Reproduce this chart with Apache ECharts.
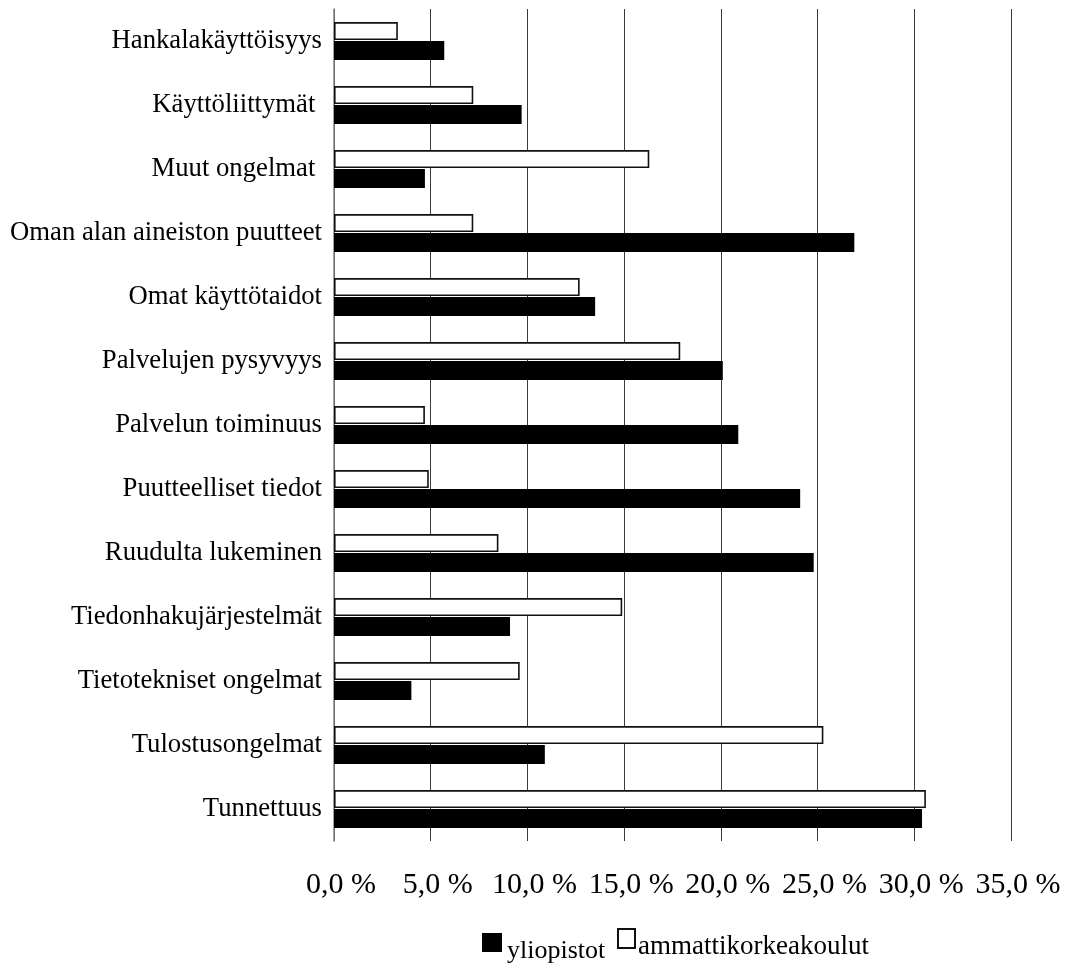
<!DOCTYPE html>
<html>
<head>
<meta charset="utf-8">
<script src="https://cdn.jsdelivr.net/npm/echarts@6/dist/echarts.min.js"></script>
<style>
  html, body { margin: 0; padding: 0; background: #fff; }
  #chart { width: 1073px; height: 965px; }
</style>
</head>
<body>
<div id="chart"></div>
<script>
// Problem categories, top to bottom
const categories = [
  'Hankalakäyttöisyys',
  'Käyttöliittymät ',
  'Muut ongelmat ',
  'Oman alan aineiston puutteet',
  'Omat käyttötaidot',
  'Palvelujen pysyvyys',
  'Palvelun toiminuus',
  'Puutteelliset tiedot',
  'Ruudulta lukeminen',
  'Tiedonhakujärjestelmät',
  'Tietotekniset ongelmat',
  'Tulostusongelmat',
  'Tunnettuus'
];

// Share of respondents (%)
const yliopistot = [5.7, 9.7, 4.7, 26.9, 13.5, 20.1, 20.9, 24.1, 24.8, 9.1, 4.0, 10.9, 30.4];
const ammattikorkeakoulut = [3.3, 7.2, 16.3, 7.2, 12.7, 17.9, 4.7, 4.9, 8.5, 14.9, 9.6, 25.3, 30.6];

// Value axis tick labels
const xTickLabels = ['0,0 %', '5,0 %', '10,0 %', '15,0 %', '20,0 %', '25,0 %', '30,0 %', '35,0 %'];

const serif = "'Liberation Serif', 'Times New Roman', serif";
const lineColor = '#3a3a3a';

// Legend swatches and legend names are placed separately so each name
// can sit at its own baseline next to its swatch.
function swatch(name, left, top, w) {
  return {
    data: [name], left: left, top: top, padding: 0,
    itemWidth: w, itemHeight: 19, itemGap: 0, icon: 'rect',
    selectedMode: false,
    formatter: () => ''
  };
}
function legendName(name, left, top, size) {
  return {
    data: [name], left: left, top: top, padding: 0,
    itemWidth: 0, itemHeight: 10, itemGap: 0, icon: 'none',
    selectedMode: false,
    textStyle: { fontFamily: serif, fontSize: size, color: '#000' }
  };
}

const chart = echarts.init(document.getElementById('chart'), null, { renderer: 'canvas' });

chart.setOption({
  animation: false,
  backgroundColor: '#ffffff',
  grid: { left: 334, right: 62, top: 9, bottom: 124, containLabel: false },
  legend: [
    swatch('yliopistot', 482, 933, 20),
    legendName('yliopistot', 502, 938, 26),
    swatch('ammattikorkeakoulut', 617, 928, 17),
    legendName('ammattikorkeakoulut', 633, 933, 27)
  ],
  xAxis: {
    type: 'value',
    min: 0, max: 35, interval: 5,
    axisLine: { show: false },
    axisTick: { show: false },
    splitLine: { show: true, lineStyle: { color: lineColor, width: 1 } },
    axisLabel: {
      margin: 29,
      fontFamily: serif, fontSize: 30, color: '#000',
      padding: [0, 0, 0, 14],
      formatter: (v) => xTickLabels[Math.round(v / 5)]
    }
  },
  yAxis: {
    type: 'category',
    inverse: true,
    data: categories,
    axisLine: { show: true, lineStyle: { color: '#808080', width: 1.5 } },
    axisTick: { show: false },
    axisLabel: { margin: 12, fontFamily: serif, fontSize: 26.7, color: '#000', padding: [6, 0, 0, 0] }
  },
  series: [
    {
      name: 'ammattikorkeakoulut',
      type: 'bar',
      data: ammattikorkeakoulut,
      barWidth: 18,
      barGap: '5%',
      itemStyle: { color: '#ffffff', borderColor: '#111', borderWidth: 1.6 }
    },
    {
      name: 'yliopistot',
      type: 'bar',
      data: yliopistot,
      barWidth: 19,
      itemStyle: { color: '#000000' }
    }
  ]
});
</script>
</body>
</html>
